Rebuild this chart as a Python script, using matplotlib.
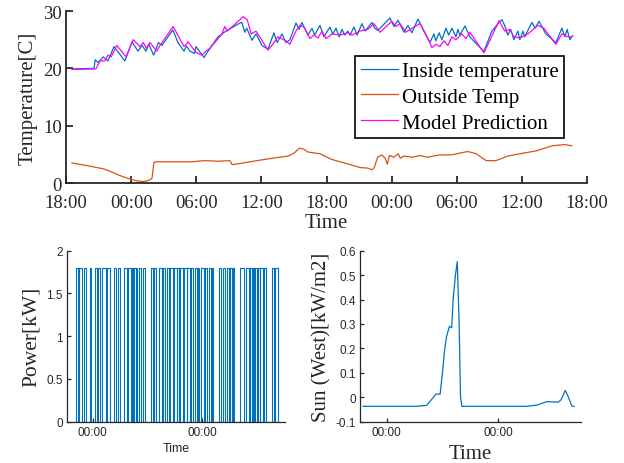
import numpy as np
import matplotlib
matplotlib.use("Agg")
import matplotlib.pyplot as plt

# =========================
# Data (time in hours after 18:00 on day 1)
# =========================
inside_t = [0.55, 2.58, 2.69, 2.95, 3.43, 3.87, 4.42, 5.42, 6.08, 6.63, 7.00, 7.37, 7.63, 8.07,
            8.51, 8.84, 9.84, 10.31, 10.87, 11.09, 11.42, 11.83, 11.97, 12.71, 13.26, 14.0, 14.73,
            16.02, 16.2, 16.47, 16.65, 17.13, 17.5, 18.05, 18.6, 19.15, 19.45, 19.9, 20.26, 20.63,
            21.18, 21.48, 21.73, 22.29, 22.66, 22.91, 23.39, 23.76, 24.31, 24.57, 24.87, 25.16,
            25.42, 25.68, 25.97, 26.16, 26.52, 26.82, 27.26, 27.55, 28.18, 28.44, 28.73, 29.84,
            30.21, 30.58, 31.13, 31.5, 31.86, 32.42, 33.52, 33.89, 34.07, 34.37, 34.63, 35.0,
            35.25, 35.55, 35.92, 36.1, 36.28, 36.76, 37.2, 37.94, 38.5, 39.23, 39.9, 40.15, 40.41,
            40.7, 40.96, 41.26, 41.63, 41.81, 42.1, 42.25, 42.92, 43.21, 43.58, 44.2, 45.13, 45.68,
            45.96, 46.16, 46.42, 46.67]
inside_v = [19.9, 20.0, 21.5, 21.0, 22.0, 21.3, 23.8, 21.3, 24.6, 23.0, 24.0, 23.0, 24.2, 22.3,
            24.5, 24.0, 26.7, 24.5, 23.0, 23.9, 23.0, 22.6, 23.8, 21.9, 23.5, 25.5, 26.5,
            27.9, 28.0, 26.3, 27.0, 24.9, 26.0, 24.0, 23.3, 26.2, 24.5, 26.0, 24.5, 25.0,
            27.9, 26.8, 28.0, 25.8, 27.0, 25.8, 27.5, 25.5, 27.2, 26.0, 27.0, 25.5,
            26.8, 25.8, 26.5, 25.8, 27.2, 25.8, 27.8, 26.5, 28.0, 27.0, 26.6, 28.8,
            27.3, 28.4, 26.3, 27.5, 26.2, 28.6, 24.5, 26.0, 24.8, 26.2, 25.0, 27.0,
            25.8, 27.0, 25.5, 26.8, 25.8, 27.4, 25.5, 24.0, 23.0, 26.5, 28.0, 28.5, 27.5,
            25.8, 26.8, 25.0, 26.5, 25.0, 26.5, 25.5, 28.0, 27.0, 28.2, 26.0, 24.5, 27.0,
            25.5, 26.8, 25.0, 25.7]

model_t = [0.55, 2.76, 3.13, 3.57, 3.87, 4.16, 4.68, 5.53, 6.19, 6.82, 7.11, 7.40, 7.74, 8.36,
           8.66, 9.87, 10.87, 11.24, 11.97, 12.52, 12.89, 13.26, 14.37, 14.62, 14.85, 16.32,
           16.69, 17.06, 17.5, 18.6, 18.97, 19.52, 20.26, 20.63, 21.18, 21.55, 21.92, 22.47,
           22.84, 23.21, 23.58, 23.94, 24.5, 25.23, 25.97, 26.34, 27.08, 27.81, 28.37, 28.92,
           30.02, 30.39, 30.76, 31.31, 31.86, 32.6, 33.52, 33.71, 34.07, 34.44, 34.81, 35.18,
           35.55, 35.92, 36.47, 36.84, 37.21, 38.5, 39.9, 40.41, 40.89, 41.26, 41.81, 42.55,
           43.47, 44.02, 45.13, 45.68, 46.23, 46.6]
model_v = [19.8, 19.9, 21.3, 21.3, 22.3, 22.0, 24.0, 22.0, 25.0, 23.8, 24.5, 23.5, 24.5, 23.0,
           24.0, 27.3, 23.8, 24.6, 22.8, 22.3, 23.0, 23.5, 26.0, 27.3, 26.5, 29.0,
           28.5, 26.0, 26.5, 23.2, 24.0, 25.5, 24.8, 24.2, 26.5, 27.5, 27.2, 25.2,
           25.8, 25.3, 26.5, 25.2, 26.0, 25.8, 26.2, 25.8, 26.5, 26.8, 27.8, 26.3,
           28.2, 27.3, 27.8, 26.3, 27.0, 27.8, 24.5, 23.6, 24.2, 23.8, 24.8, 24.0,
           25.5, 25.0, 26.0, 25.2, 26.3, 22.7, 28.3, 26.5, 26.8, 25.5, 25.3, 26.0,
           27.5, 27.0, 24.2, 26.0, 25.5, 25.5]

outside_t = [0.55, 2.03, 3.5, 4.24, 4.97, 5.71, 6.45, 7.0, 7.55, 7.92, 8.1, 8.29, 9.76, 11.6,
             12.7, 13.45, 14.0, 15.1, 15.3, 16.0, 17.9, 19.3, 20.45, 21.0, 21.5, 21.9, 22.3,
             23.4, 24.5, 26.0, 27.1, 27.8, 28.2, 28.4, 28.7, 29.1, 29.4, 29.6, 29.8, 30.2,
             30.6, 30.8, 31.1, 31.9, 32.6, 33.3, 34.4, 35.5, 37.0, 37.8, 38.7, 39.6, 40.7,
             41.8, 43.3, 44.8, 45.9, 46.6]
outside_v = [3.5, 3.0, 2.45, 1.9, 1.3, 0.8, 0.4, 0.25, 0.4, 0.8, 3.6, 3.7, 3.7, 3.7,
             3.9, 3.85, 3.8, 3.9, 3.2, 3.4, 4.0, 4.4, 4.7, 5.2, 6.1, 5.9, 5.4,
             5.1, 4.1, 3.3, 2.7, 2.6, 2.3, 2.7, 4.5, 4.9, 4.3, 3.3, 4.8, 4.5,
             5.1, 4.3, 4.7, 4.5, 4.8, 4.5, 4.9, 4.9, 5.5, 5.1, 3.9, 3.9, 4.7,
             5.1, 5.6, 6.5, 6.7, 6.5]

# heater on intervals (hours), power level 1.8 kW
power_on = [(2.44, 2.73), (3.02, 3.60), (4.04, 4.48), (5.35, 5.64), (6.44, 6.95), (7.17, 7.53),
            (8.04, 8.84), (9.13, 9.71), (10.58, 11.16), (11.45, 12.04), (12.91, 13.49),
            (13.78, 14.36), (14.51, 14.80), (15.09, 15.53), (15.67, 15.82), (16.25, 16.54),
            (16.98, 17.56), (18.72, 19.30), (19.52, 19.89), (20.62, 21.20), (21.42, 21.78),
            (22.21, 22.65), (22.87, 23.52), (23.81, 24.39), (24.54, 24.97), (25.19, 25.70),
            (25.92, 26.57), (26.72, 27.30), (27.52, 28.03), (28.47, 28.90), (29.12, 29.34),
            (29.78, 30.36), (30.58, 31.08), (31.52, 31.96), (32.18, 32.40), (33.56, 34.0),
            (34.43, 35.02), (35.30, 35.74), (36.03, 36.47), (36.68, 36.90), (38.35, 39.22),
            (39.51, 40.24), (40.53, 40.97), (41.19, 41.26), (41.55, 41.99), (42.21, 42.58),
            (42.72, 43.30), (43.52, 44.03), (45.2, 45.64), (45.93, 46.66)]
power_level = 1.8
power_start, power_end = 0.55, 46.7

sun_t = [0.88, 12.4, 14.6, 15.7, 16.6, 17.5, 18.0, 18.5, 18.9, 19.5, 20.0, 20.3, 20.8, 21.2,
         21.6, 21.9, 22.2, 36.2, 38.4, 40.5, 43.0, 43.6, 44.5, 45.2, 45.9, 46.4]
sun_v = [-0.037, -0.037, -0.033, -0.008, 0.013, 0.013, 0.1, 0.2, 0.25, 0.29, 0.285, 0.4, 0.5,
         0.555, 0.3, 0.0, -0.037, -0.037, -0.032, -0.018, -0.02, -0.01, 0.028, 0.0, -0.035,
         -0.038]

top_ticks = [0, 6, 12, 18, 24, 30, 36, 42, 48]
top_labels = ["18:00", "00:00", "06:00", "12:00", "18:00", "00:00", "06:00", "12:00", "18:00"]
bottom_ticks = [6, 30]
bottom_labels = ["00:00", "00:00"]

# =========================
# Build power step series
# =========================
px, py = [power_start], [0.0]
for a, b in power_on:
    px += [a, a, b, b]
    py += [0.0, power_level, power_level, 0.0]
px.append(power_end)
py.append(0.0)

# =========================
# Figure
# =========================
serif = ["Liberation Serif", "DejaVu Serif"]
sans = ["Liberation Sans", "DejaVu Sans"]
dark = "#262626"
blue = "#0072BD"
orange = "#D95319"
magenta = "#FF00FF"

fig = plt.figure(figsize=(6.24, 4.64), dpi=100)

ax1 = fig.add_axes([0.1058, 0.6034, 0.835, 0.3707])
ax1.plot(inside_t, inside_v, color=blue, lw=0.9, label="Inside temperature")
ax1.plot(outside_t, outside_v, color=orange, lw=0.9, label="Outside Temp")
ax1.plot(model_t, model_v, color=magenta, lw=0.9, label="Model Prediction")
ax1.set_xlim(0, 48)
ax1.set_ylim(0, 30)
ax1.set_xticks(top_ticks)
ax1.set_xticklabels(top_labels, family=serif, fontsize=13.5, color=dark)
ax1.set_yticks([0, 10, 20, 30])
ax1.set_yticklabels(["0", "10", "20", "30"], family=serif, fontsize=13.5, color=dark)
ax1.set_xlabel("Time", family=serif, fontsize=15, color=dark, labelpad=1)
ax1.set_ylabel("Temperature[C]", family=serif, fontsize=15, color=dark, labelpad=4)
leg = ax1.legend(loc="upper right", bbox_to_anchor=(0.956, 0.738), prop={"family": serif, "size": 15},
                 frameon=True, fancybox=False, edgecolor="black", framealpha=1,
                 handlelength=1.8, handletextpad=0.2, labelspacing=0.3, borderpad=0.25,
                 borderaxespad=0)
leg.get_frame().set_linewidth(1.2)

ax2 = fig.add_axes([0.1074, 0.089, 0.3494, 0.3685])
ax2.plot(px, py, color=blue, lw=0.8)
ax2.set_xlim(0.4, 48.1)
ax2.set_ylim(0, 2)
ax2.set_xticks(bottom_ticks)
ax2.set_xticklabels(bottom_labels, family=sans, fontsize=8.5, color=dark)
ax2.set_yticks([0, 0.5, 1, 1.5, 2])
ax2.set_yticklabels(["0", "0.5", "1", "1.5", "2"], family=sans, fontsize=8.5, color=dark)
ax2.set_xlabel("Time", family=sans, fontsize=9, color=dark, labelpad=3)
ax2.set_ylabel("Power[kW]", family=serif, fontsize=15.5, color=dark, labelpad=4)

ax3 = fig.add_axes([0.5769, 0.089, 0.3542, 0.3685])
ax3.plot(sun_t, sun_v, color=blue, lw=0.9)
ax3.set_xlim(0.2, 47.9)
ax3.set_ylim(-0.1, 0.6)
ax3.set_xticks(bottom_ticks)
ax3.set_xticklabels(bottom_labels, family=sans, fontsize=8.5, color=dark)
ax3.set_yticks([-0.1, 0, 0.1, 0.2, 0.3, 0.4, 0.5, 0.6])
ax3.set_yticklabels(["-0.1", "0", "0.1", "0.2", "0.3", "0.4", "0.5", "0.6"],
                    family=sans, fontsize=8.5, color=dark)
ax3.set_xlabel("Time", family=serif, fontsize=15, color=dark, labelpad=4.5)
ax3.set_ylabel("Sun (West)[kW/m2]", family=serif, fontsize=15, color=dark, labelpad=3)

for ax, lw, tl in [(ax1, 1.3, 5), (ax2, 0.9, 3), (ax3, 0.9, 3)]:
    ax.spines["top"].set_visible(False)
    ax.spines["right"].set_visible(False)
    for s in ["left", "bottom"]:
        ax.spines[s].set_linewidth(lw)
        ax.spines[s].set_color(dark)
    ax.tick_params(direction="in", length=tl, width=lw, colors=dark, pad=3)
ax1.tick_params(axis="x", pad=8)

fig.savefig("out.png", dpi=100)
